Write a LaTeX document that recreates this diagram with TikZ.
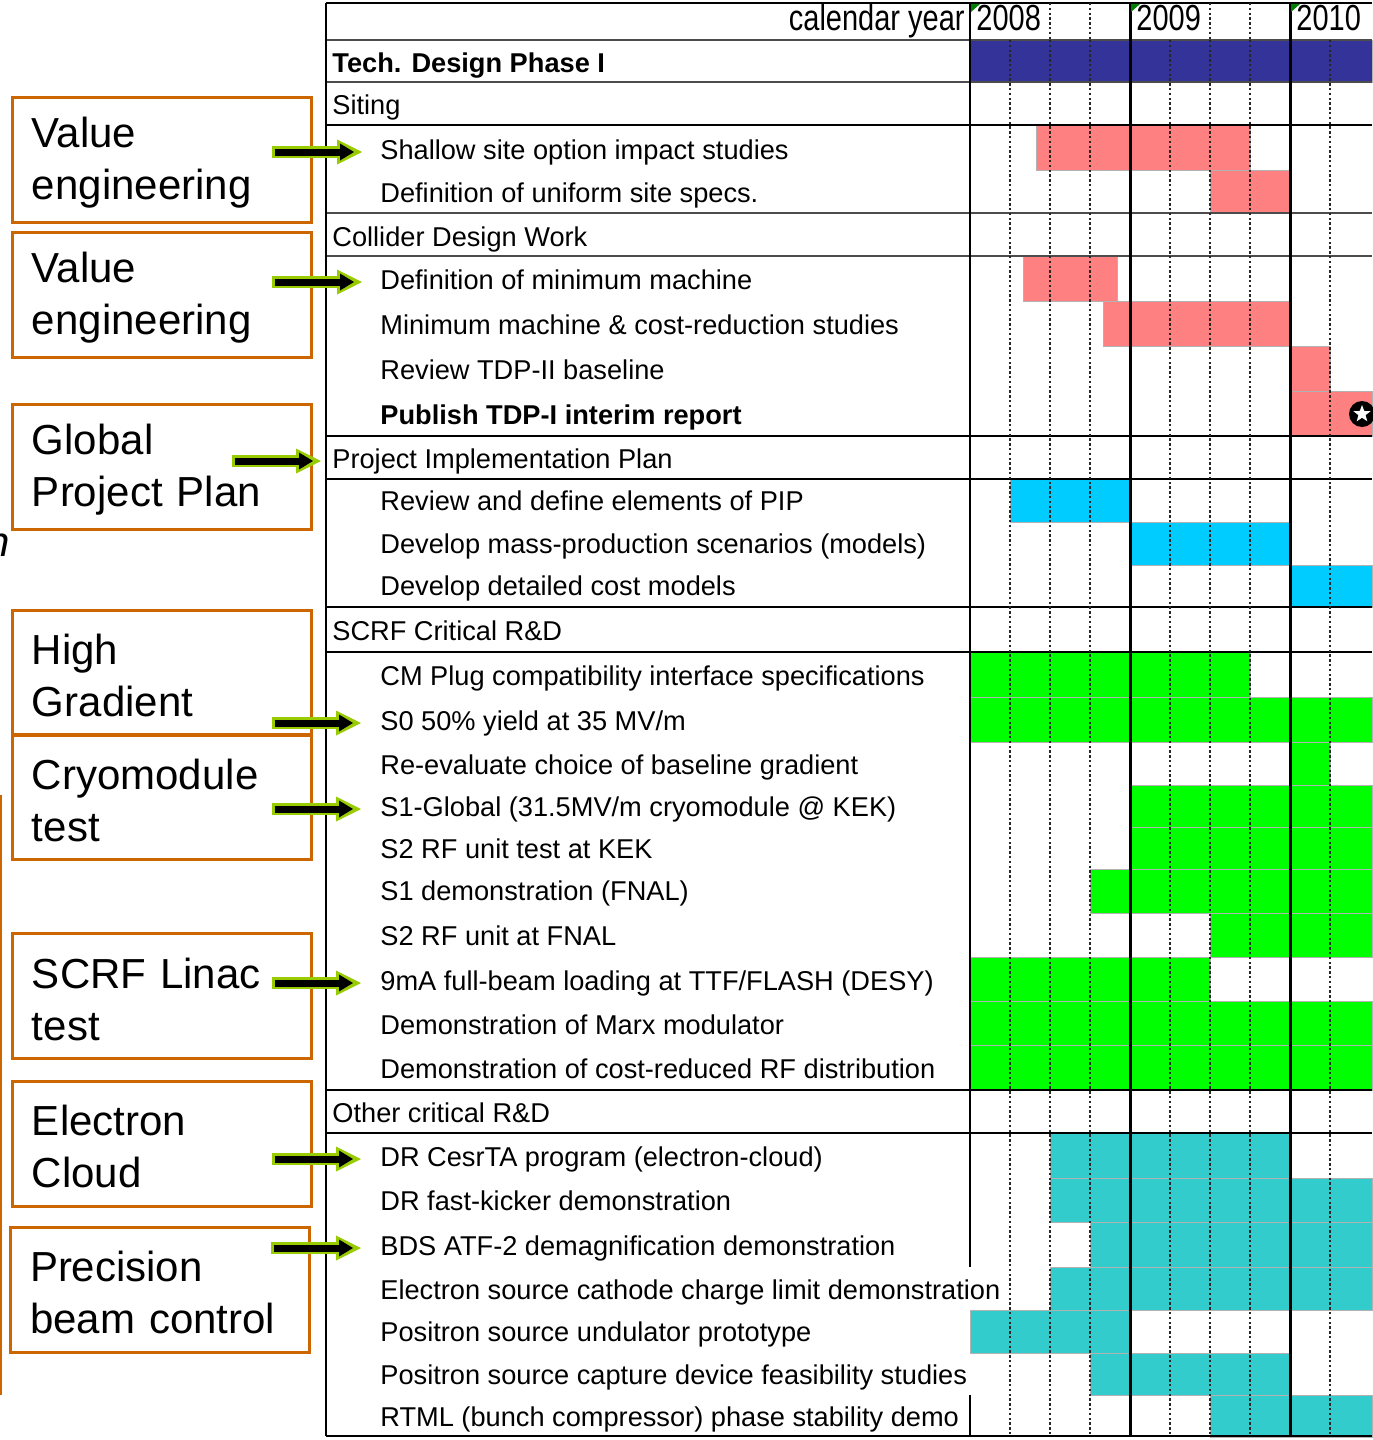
\documentclass[tikz,border=0pt]{standalone}
\usepackage{fontspec}
\setmainfont{Liberation Sans}
\usepackage{graphicx}
\usetikzlibrary{arrows.meta,shapes.geometric}
\definecolor{tdpblue}{HTML}{333399}
\definecolor{sitepink}{HTML}{FF8080}
\definecolor{pipcyan}{HTML}{00CCFF}
\definecolor{scrfgreen}{HTML}{00FF00}
\definecolor{otherteal}{HTML}{33CCCC}
\definecolor{goalorange}{HTML}{CC6600}
\definecolor{hintgreen}{HTML}{99CC00}
\definecolor{notegreen}{HTML}{008000}

\begin{document}
\begin{tikzpicture}
[x=0.5pt, y=-0.5pt, every node/.style={inner sep=0pt},
 task/.style={anchor=base west, text height=10pt, text depth=3pt, font=\fontsize{13.6}{16}\selectfont},
 year/.style={anchor=base west, font=\fontsize{14.5}{17}\selectfont},
 goal/.style={draw=goalorange, line width=1.5pt, text width=129.5pt, inner xsep=10pt, minimum height=62.5pt, align=left, font=\fontsize{21}{26}\selectfont, execute at begin node={\rule{0pt}{18.3pt}}},
 hint/.style={draw=black, line width=3.5pt, -{Triangle[length=7pt, width=8.5pt, line width=0pt]}, shorten >=4pt, shorten <=1.5pt,
   preaction={draw=hintgreen, line width=6pt, -{Triangle[length=12.5pt, width=12.5pt, line width=0pt]}, shorten >=0pt, shorten <=0pt}},
 bar/.style={draw=black!30, line width=0.3pt},
 major/.style={line width=1.3pt, color=black},
 minor/.style={line width=0.9pt, color=black!70},
 quarter/.style={line width=0.8pt, color=black!85, dash pattern=on 1.2pt off 1.2pt}]
\path [use as bounding box, fill=white] (0,0) rectangle (1372,1440);
\fill [tdpblue, bar] (970,40) rectangle (1372,82);
\fill [sitepink, bar] (1036,125) rectangle (1250,170);
\fill [sitepink, bar] (1210,170) rectangle (1290,213);
\fill [sitepink, bar] (1023,256) rectangle (1117,301);
\fill [sitepink, bar] (1103,301) rectangle (1290,346);
\fill [sitepink, bar] (1290,346) rectangle (1330,391);
\fill [sitepink, bar] (1290,391) rectangle (1372,436);
\fill [pipcyan, bar] (1010,479) rectangle (1130,522);
\fill [pipcyan, bar] (1130,522) rectangle (1290,565);
\fill [pipcyan, bar] (1290,565) rectangle (1372,607);
\fill [scrfgreen, bar] (970,652) rectangle (1250,697);
\fill [scrfgreen, bar] (970,697) rectangle (1372,742);
\fill [scrfgreen, bar] (1290,742) rectangle (1330,785);
\fill [scrfgreen, bar] (1130,785) rectangle (1372,827);
\fill [scrfgreen, bar] (1130,827) rectangle (1372,869);
\fill [scrfgreen, bar] (1090,869) rectangle (1372,913);
\fill [scrfgreen, bar] (1210,913) rectangle (1372,957);
\fill [scrfgreen, bar] (970,957) rectangle (1210,1001);
\fill [scrfgreen, bar] (970,1001) rectangle (1372,1045);
\fill [scrfgreen, bar] (970,1045) rectangle (1372,1090);
\fill [otherteal, bar] (1050,1133) rectangle (1290,1178);
\fill [otherteal, bar] (1050,1178) rectangle (1372,1222);
\fill [otherteal, bar] (1090,1222) rectangle (1372,1267);
\fill [otherteal, bar] (1050,1267) rectangle (1372,1310);
\fill [otherteal, bar] (970,1310) rectangle (1130,1353);
\fill [otherteal, bar] (1090,1353) rectangle (1290,1395);
\fill [otherteal, bar] (1210,1395) rectangle (1372,1437);
\foreach \y in {40,82,213,256}
  \draw [minor] (326,\y) -- (1372,\y);
\foreach \y in {3,125,436,479,607,652,1090,1133,1436}
  \draw [major] (326,\y) -- (1372,\y);
\foreach \x in {1010,1050,1090,1170,1210,1250,1330}
  \draw [quarter] (\x,40) -- (\x,1436);
\foreach \x in {1050,1090,1210,1250}
  \draw [quarter] (\x,3) -- (\x,40);
\draw [major] (326,3) -- (326,1436);
\draw [major, line width=1.5pt] (1130,3) -- (1130,1436);
\draw [major, line width=1.5pt] (1290,3) -- (1290,1436);
\draw [major, line width=0.8pt] (970,3) -- (970,1267);
\draw [major, line width=0.8pt] (970,1395) -- (970,1436);
\fill [notegreen] (971,4) -- (980,4) -- (971,12) -- cycle;
\fill [notegreen] (1131,4) -- (1140,4) -- (1131,12) -- cycle;
\fill [notegreen] (1291,4) -- (1300,4) -- (1291,12) -- cycle;
\node (calendar) [anchor=base east, font=\fontsize{14.5}{17}\selectfont] at (965,30) {\scalebox{1}[1.25]{calendar year}};
\node (y2008) [year] at (976,30) {\scalebox{1}[1.25]{2008}};
\node (y2009) [year] at (1136,30) {\scalebox{1}[1.25]{2009}};
\node (y2010) [year] at (1296,30) {\scalebox{1}[1.25]{2010}};
\node (tdp) [task, font=\fontsize{13.6}{16}\selectfont\bfseries] at (332,72) {Tech. Design Phase I};
\node (siting) [task] at (332,114) {Siting};
\node (shallow) [task] at (380,159) {Shallow site option impact studies};
\node (uniform) [task] at (380,202) {Definition of uniform site specs.};
\node (collider) [task] at (332,246) {Collider Design Work};
\node (minimum) [task] at (380,289) {Definition of minimum machine};
\node (costred) [task] at (380,334) {Minimum machine \& cost-reduction studies};
\node (tdpii) [task] at (380,379) {Review TDP-II baseline};
\node (publish) [task, font=\fontsize{13.6}{16}\selectfont\bfseries] at (380,424) {Publish TDP-I interim report};
\node (pip) [task] at (332,468) {Project Implementation Plan};
\node (elements) [task] at (380,510) {Review and define elements of PIP};
\node (massprod) [task] at (380,553) {Develop mass-production scenarios (models)};
\node (costmod) [task] at (380,595) {Develop detailed cost models};
\node (scrf) [task] at (332,640) {SCRF Critical R\&D};
\node (cmplug) [task] at (380,685) {CM Plug compatibility interface specifications};
\node (s0) [task] at (380,730) {S0 50\% yield at 35 MV/m};
\node (reeval) [task] at (380,774) {Re-evaluate choice of baseline gradient};
\node (s1global) [task] at (380,816) {S1-Global (31.5MV/m cryomodule @ KEK)};
\node (s2kek) [task] at (380,858) {S2 RF unit test at KEK};
\node (s1fnal) [task] at (380,900) {S1 demonstration (FNAL)};
\node (s2fnal) [task] at (380,945) {S2 RF unit at FNAL};
\node (flash) [task] at (380,990) {9mA full-beam loading at TTF/FLASH (DESY)};
\node (marx) [task] at (380,1034) {Demonstration of Marx modulator};
\node (rfdist) [task] at (380,1078) {Demonstration of cost-reduced RF distribution};
\node (other) [task] at (332,1122) {Other critical R\&D};
\node (cesrta) [task] at (380,1166) {DR CesrTA program (electron-cloud)};
\node (kicker) [task] at (380,1210) {DR fast-kicker demonstration};
\node (atf) [task] at (380,1255) {BDS ATF-2 demagnification demonstration};
\node (cathode) [task] at (380,1299) {Electron source cathode charge limit demonstration};
\node (undulator) [task] at (380,1341) {Positron source undulator prototype};
\node (capture) [task] at (380,1384) {Positron source capture device feasibility studies};
\node (rtml) [task] at (380,1426) {RTML (bunch compressor) phase stability demo};
\node (milestone) [circle, fill=black, minimum size=13pt] at (1362,414) {};
\node (star) [star, star points=5, star point ratio=2.4, fill=white, minimum size=9pt] at (milestone) {};
\node (ve1) [goal] at (161.5,159.5) {Value\\engineering};
\node (ve2) [goal] at (161.5,295) {Value\\engineering};
\node (gpp) [goal] at (161.5,466.5) {Global\\Project Plan};
\node (hg) [goal] at (161.5,672.5) {High\\Gradient};
\node (cm) [goal] at (161.5,797) {Cryomodule\\test};
\node (linac) [goal] at (161.5,996) {SCRF Linac\\test};
\node (ecloud) [goal] at (161.5,1143.5) {Electron\\Cloud};
\node (beam) [goal] at (159.5,1289.5) {Precision\\beam control};
\node (cut) [anchor=base east, font=\fontsize{21}{26}\selectfont\itshape] at (10,556) {n};
\draw [goalorange, line width=1pt] (1,795) -- (1,1395);
\draw [hint] ([xshift=-20.5pt]ve1.east |- shallow.west) -- ([xshift=-9pt]shallow.west);
\draw [hint] ([xshift=-20.5pt]ve2.east |- minimum.west) -- ([xshift=-9pt]minimum.west);
\draw [hint] ([xshift=-40.5pt]gpp.east |- pip.west) -- ([xshift=-5.5pt]pip.west);
\draw [hint] ([xshift=-20.5pt]hg.east |- s0.west) -- ([xshift=-9.5pt]s0.west);
\draw [hint] ([xshift=-20.5pt]cm.east |- s1global.west) -- ([xshift=-9.5pt]s1global.west);
\draw [hint] ([xshift=-20.5pt]linac.east |- flash.west) -- ([xshift=-9.5pt]flash.west);
\draw [hint] ([xshift=-20.5pt]ecloud.east |- cesrta.west) -- ([xshift=-9.5pt]cesrta.west);
\draw [hint] ([xshift=-20pt]beam.east |- atf.west) -- ([xshift=-9.5pt]atf.west);
\end{tikzpicture}
\end{document}
